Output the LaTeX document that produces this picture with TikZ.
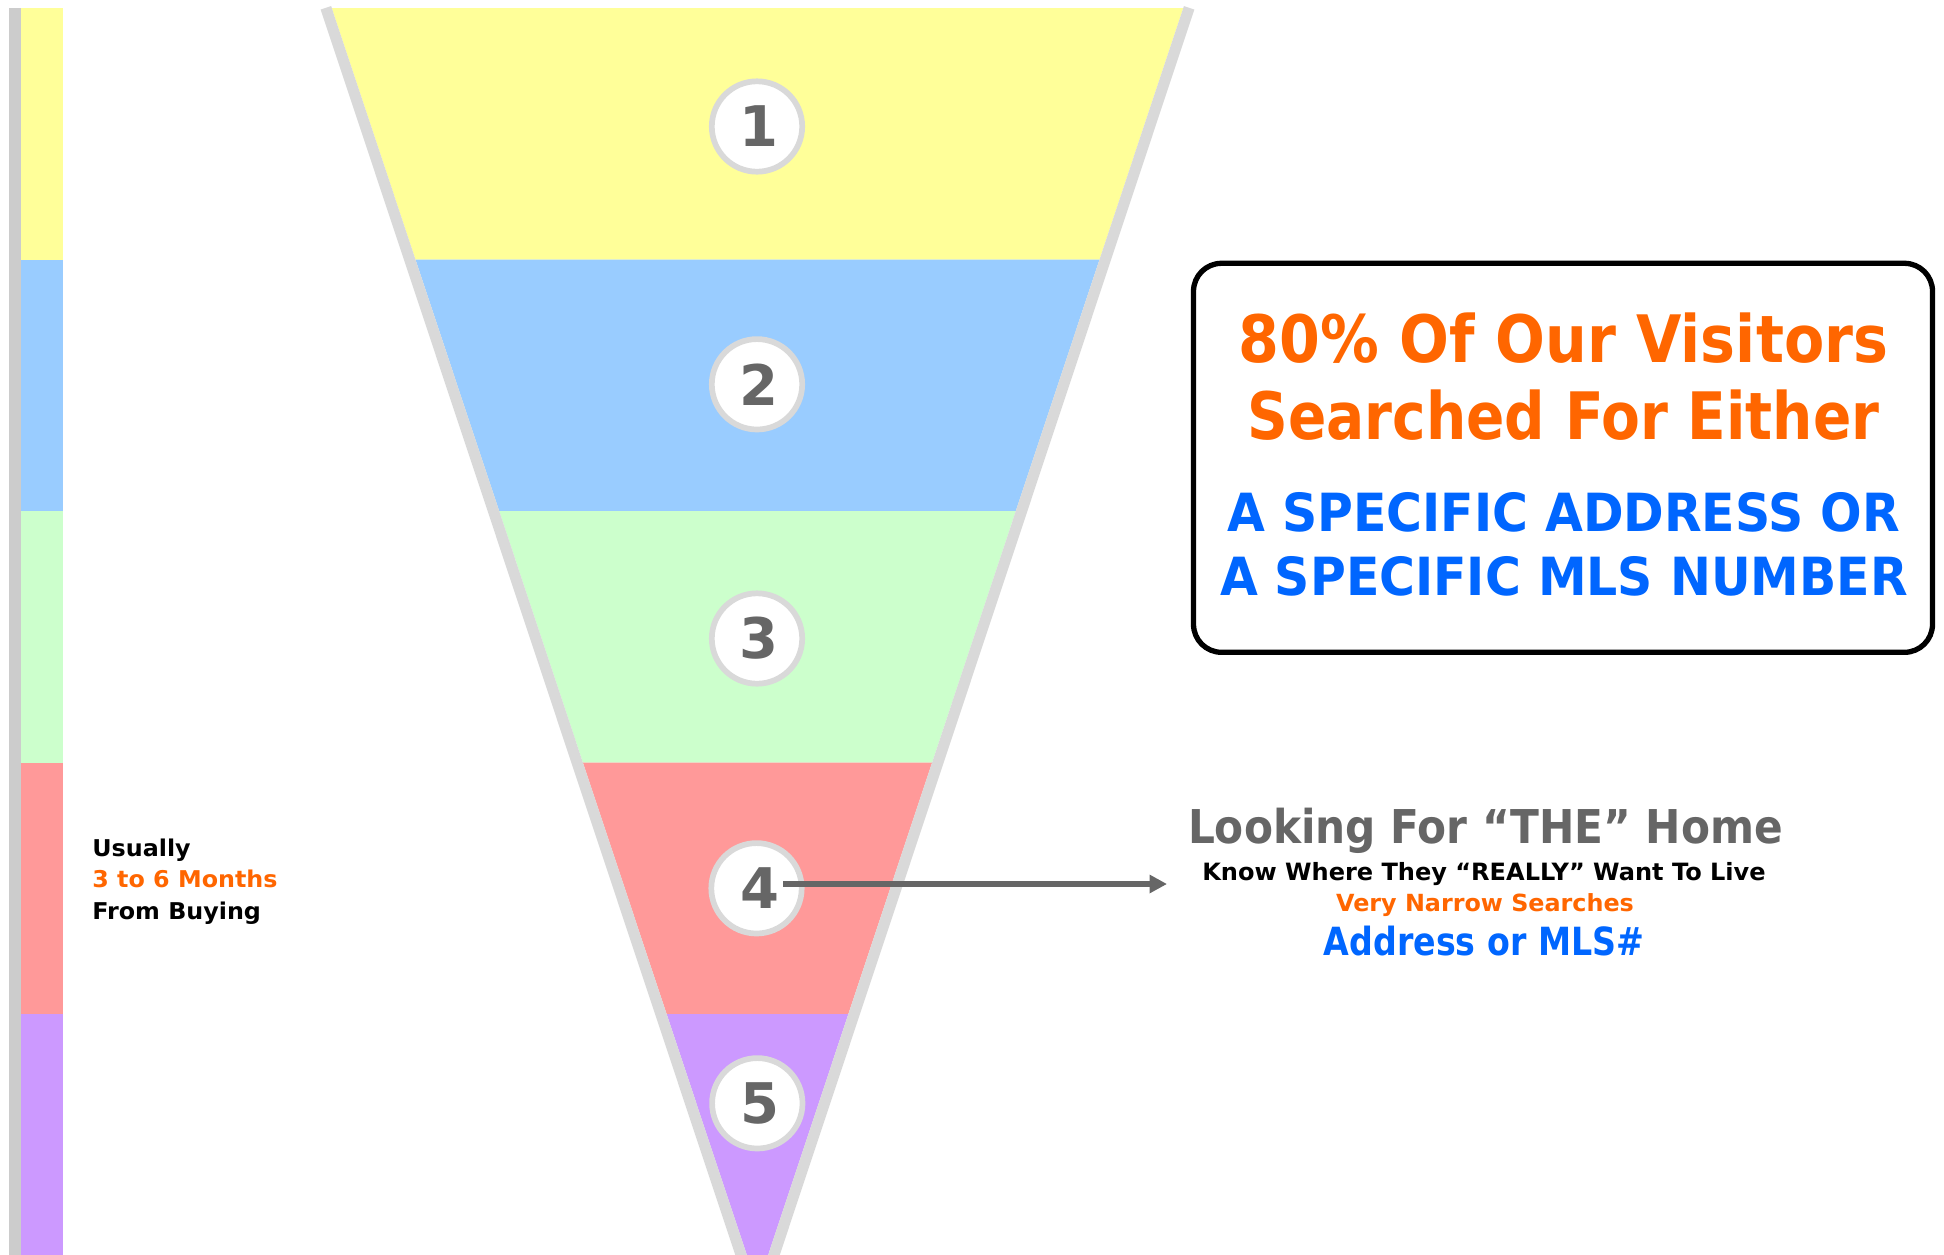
\documentclass[tikz,border=0pt]{standalone}
\usepackage{fontspec}
\setmainfont{DejaVu Sans}
\newfontfamily\fOrangeA[FakeStretch=0.897]{DejaVu Sans}
\newfontfamily\fOrangeB[FakeStretch=0.865]{DejaVu Sans}
\newfontfamily\fBlue[FakeStretch=0.93]{DejaVu Sans}
\newfontfamily\fLook[FakeStretch=0.907]{DejaVu Sans}
\newfontfamily\fKnow[FakeStretch=1.01]{DejaVu Sans}
\newfontfamily\fAddr[FakeStretch=0.857]{DejaVu Sans}
\newfontfamily\fLeft[FakeStretch=1.03]{DejaVu Sans}
\usetikzlibrary{arrows.meta}
\definecolor{cYellow}{HTML}{FFFF99}
\definecolor{cBlue}{HTML}{99CCFF}
\definecolor{cGreen}{HTML}{CCFFCC}
\definecolor{cRed}{HTML}{FF9999}
\definecolor{cPurple}{HTML}{CC99FF}
\definecolor{cFunGray}{HTML}{D9D9D9}
\definecolor{cBarGray}{HTML}{CCCCCC}
\definecolor{cText}{HTML}{666666}
\definecolor{cOrange}{HTML}{FF6600}
\definecolor{cAzure}{HTML}{0066FF}
\tikzset{
  numcirc/.style={circle, minimum size=45.2pt, inner sep=0pt, draw=cFunGray,
    line width=2.85pt, fill=white, text=cText,
    font=\bfseries\fontsize{28}{28}\selectfont},
  funedge/.style={draw=cFunGray, line width=5.5pt, line cap=butt},
  txt/.style={inner sep=0pt, anchor=base},
  txtl/.style={inner sep=0pt, anchor=base west},
  boxtopA/.style={txt, text=cOrange, font=\fOrangeA\bfseries\fontsize{32.7}{36}\selectfont},
  boxtopB/.style={txt, text=cOrange, font=\fOrangeB\bfseries\fontsize{32.7}{36}\selectfont},
  boxlow/.style={txt, text=cAzure, font=\fBlue\bfseries\fontsize{26.3}{30}\selectfont},
  lefttxt/.style={txtl, font=\fLeft\bfseries\fontsize{11.55}{13}\selectfont},
  pointer/.style={draw=cText, line width=2.65pt, -{Triangle[length=8.75pt,width=8.8pt]}}
}
\begin{document}
\begin{tikzpicture}[x=0.5pt,y=-0.5pt]
\useasboundingbox (0,0) rectangle (1944,1254);
\clip (0,0) rectangle (1944,1254);
\fill[white] (0,0) rectangle (1944,1254);
% left bar
\fill[cBarGray] (9,8) rectangle (21,1270);
\fill[cYellow] (21,8) rectangle (63,259.5);
\fill[cBlue] (21,259.5) rectangle (63,511);
\fill[cGreen] (21,511) rectangle (63,762.5);
\fill[cRed] (21,762.5) rectangle (63,1014);
\fill[cPurple] (21,1014) rectangle (63,1270);
% funnel bands
\fill[cYellow] (331.75,8) -- (1183.25,8) -- (1099.54,259.5) -- (415.46,259.5) -- cycle;
\fill[cBlue] (415.46,259.5) -- (1099.54,259.5) -- (1015.81,511) -- (499.19,511) -- cycle;
\fill[cGreen] (499.19,511) -- (1015.81,511) -- (932.1,762.5) -- (582.9,762.5) -- cycle;
\fill[cRed] (582.9,762.5) -- (932.1,762.5) -- (848.38,1014) -- (666.62,1014) -- cycle;
\fill[cPurple] (666.62,1014) -- (848.38,1014) -- (757.5,1287) -- cycle;
% funnel edges
\draw[funedge] (325.9,7.84) -- (752.28,1288.74);
\draw[funedge] (1189.1,7.84) -- (762.72,1288.74);
% numbered circles
\node[numcirc] (c1) at (757,126.5) {\kern2pt 1};
\node[numcirc] (c2) at (757,384.3) {\kern2pt 2};
\node[numcirc] (c3) at (757,638.5) {\kern2pt 3};
\node[numcirc] (c4) at (756.5,888.3) {\kern3pt 4};
\node[numcirc] (c5) at (757.3,1103.3) {\kern3pt 5};
% arrow
\coordinate (arrS) at (783,884);
\coordinate (arrE) at (1167,884);
\draw[pointer] (arrS) -- (arrE);
% box
\node[draw=black, fill=white, line width=2.65pt, rounded corners=14pt,
      minimum width=369.5pt, minimum height=194.5pt, inner sep=0pt] (box) at (1563,457.8) {};
\node[boxtopA] (b1) at (1563.5,362.7) {80\% Of Our Visitors};
\node[boxtopB] (b2) at (1563.5,439) {Searched For Either};
\node[boxlow] (b3) at (1563.5,531) {A SPECIFIC ADDRESS OR};
\node[boxlow] (b4) at (1564,595) {A SPECIFIC MLS NUMBER};
% stage 4 text
\node[txt, text=cText, font=\fLook\bfseries\fontsize{23.3}{26}\selectfont] (r1) at (1485.5,843) {Looking For “THE” Home};
\node[txt, text=black, font=\fKnow\bfseries\fontsize{11.9}{14}\selectfont] (r2) at (1484,880) {Know Where They “REALLY” Want To Live};
\node[txt, text=cOrange, font=\fKnow\bfseries\fontsize{11.8}{14}\selectfont] (r3) at (1485,911.7) {Very Narrow Searches};
\node[txt, text=cAzure, font=\fAddr\bfseries\fontsize{19.4}{22}\selectfont] (r4) at (1484,955) {Address or MLS\#};
% left text
\node[lefttxt, text=black] (l1) at (92,856.5) {Usually};
\node[lefttxt, text=cOrange] (l2) at (92,887.5) {3 to 6 Months};
\node[lefttxt, text=black] (l3) at (92,919) {From Buying};
\end{tikzpicture}
\end{document}
